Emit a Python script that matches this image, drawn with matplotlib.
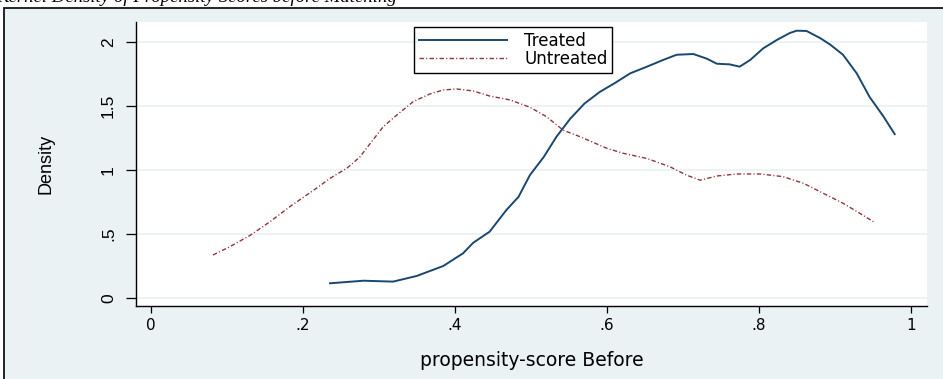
import matplotlib
matplotlib.use("Agg")
import matplotlib.pyplot as plt
from matplotlib.patches import Rectangle

# kernel density curves
treated_x = [0.236, 0.28, 0.319, 0.35, 0.385, 0.411, 0.4245, 0.446, 0.468, 0.484, 0.499,
             0.517, 0.534, 0.552, 0.571, 0.591, 0.611, 0.631, 0.653, 0.6745, 0.692, 0.714,
             0.7316, 0.745, 0.762, 0.775, 0.789, 0.806, 0.824, 0.841, 0.85, 0.863, 0.881,
             0.894, 0.911, 0.929, 0.946, 0.964, 0.979]
treated_y = [0.115, 0.135, 0.128, 0.172, 0.25, 0.349, 0.432, 0.518, 0.687, 0.79, 0.96,
             1.10, 1.26, 1.40, 1.52, 1.61, 1.68, 1.755, 1.807, 1.86, 1.90, 1.906,
             1.87, 1.83, 1.825, 1.807, 1.86, 1.95, 2.016, 2.07, 2.088, 2.086, 2.03,
             1.98, 1.90, 1.755, 1.57, 1.42, 1.28]

untreated_x = [0.082, 0.104, 0.131, 0.157, 0.183, 0.201, 0.218, 0.236, 0.258, 0.275, 0.289,
               0.306, 0.324, 0.3455, 0.3675, 0.385, 0.4026, 0.4245, 0.446, 0.473, 0.499,
               0.521, 0.543, 0.565, 0.60, 0.622, 0.653, 0.683, 0.705, 0.723, 0.745, 0.771,
               0.802, 0.832, 0.859, 0.885, 0.911, 0.933, 0.951]
untreated_y = [0.336, 0.40, 0.49, 0.596, 0.713, 0.787, 0.857, 0.935, 1.013, 1.10, 1.208,
               1.338, 1.43, 1.534, 1.594, 1.625, 1.633, 1.617, 1.578, 1.547, 1.49,
               1.416, 1.31, 1.26, 1.17, 1.13, 1.09, 1.026, 0.96, 0.92, 0.953, 0.969,
               0.969, 0.948, 0.896, 0.818, 0.74, 0.662, 0.596]

x_ticks = [0, 0.2, 0.4, 0.6, 0.8, 1]
x_labels = ["0", ".2", ".4", ".6", ".8", "1"]
y_ticks = [0, 0.5, 1, 1.5, 2]
y_labels = ["0", ".5", "1", "1.5", "2"]

W, H = 943, 379
fig = plt.figure(figsize=(W / 100, H / 100), dpi=100, facecolor="white")

# graph region (light blue panel with black outline, cut off by the image edge)
fig.patches.append(Rectangle((4 / W, -0.1), 1.2, 1 - 8.5 / H + 0.1, transform=fig.transFigure,
                             facecolor="#EAF2F3", edgecolor="black", linewidth=1.2,
                             zorder=-10))

# cut-off title at the top
fig.text(-4 / W, 1 - 2.5 / H, "Kernel Density of Propensity Scores before Matching",
         family="Liberation Serif", style="italic", fontsize=13.5,
         ha="left", va="baseline")

ax = fig.add_axes([135.7 / W, 1 - 306 / H, (927 - 135.7) / W, (306 - 22) / H])
ax.set_zorder(5)
ax.set_facecolor("white")

ax.plot(treated_x, treated_y, color="#1A476F", linewidth=1.4, label="Treated")
ax.plot(untreated_x, untreated_y, color="#90353B", linewidth=1.0,
        dashes=(3.2, 1.6, 0.8, 1.6), label="Untreated")

ax.set_xlim(-0.0197, 1.0215)
ax.set_ylim(-0.0625, 2.156)

ax.set_xticks(x_ticks)
ax.set_xticklabels(x_labels, family="DejaVu Sans", fontsize=11)
ax.set_yticks(y_ticks)
ax.set_yticklabels(y_labels, family=["Liberation Sans Narrow", "Liberation Sans"],
                   fontsize=12.5, rotation=90, va="center")

ax.tick_params(axis="x", length=5, width=0.9, pad=3.5, color="black")
ax.tick_params(axis="y", length=7.2, width=0.9, pad=7, color="black")

ax.grid(axis="y", color="#EBF2F4", linewidth=1.3)
ax.set_axisbelow(True)

for side in ["top", "right"]:
    ax.spines[side].set_visible(False)
for side in ["left", "bottom"]:
    ax.spines[side].set_linewidth(1.0)
    ax.spines[side].set_color("black")

ax.set_xlabel("propensity-score Before", family="DejaVu Sans", fontsize=13.5)
ax.xaxis.set_label_coords(0.5, -0.16)
ax.set_ylabel("Density", family="Liberation Sans", fontsize=13)
ax.yaxis.set_label_coords(-0.102, 0.5)

leg = ax.legend(loc="upper left", bbox_to_anchor=(414 / W, 1 - 27 / H),
                bbox_transform=fig.transFigure, borderaxespad=0,
                prop={"family": "DejaVu Sans", "size": 12},
                handlelength=5.3, handletextpad=1.0, labelspacing=0.0,
                borderpad=0.3, fancybox=False, framealpha=1, edgecolor="black")
leg.get_frame().set_linewidth(1.0)

fig.savefig("out.png", dpi=100, facecolor="white")
